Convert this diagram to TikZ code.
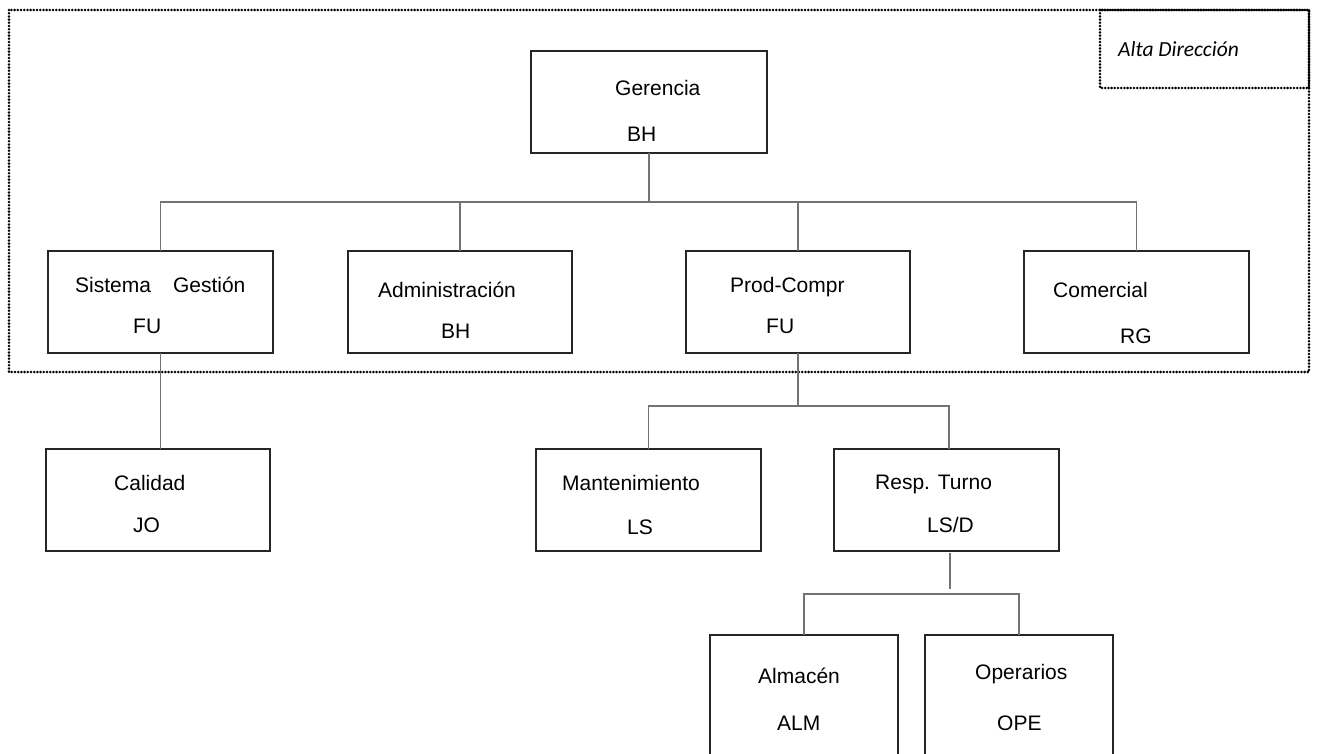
\documentclass[tikz,border=0pt]{standalone}
\usepackage{fontspec}
\setmainfont{Liberation Sans}
\newfontfamily\calfont{Carlito}
\begin{document}
\begin{tikzpicture}[x=1pt,y=-1pt,
  box/.style={draw=black!85, line width=1.3pt, inner sep=0pt, outer sep=0pt, minimum height=102pt, minimum width=225pt},
  conn/.style={draw=black!55, line width=1.4pt},
  dots/.style={draw=black, line width=2.8pt, dash pattern=on 0pt off 3.2pt, line cap=round},
  lbl/.style={anchor=base west, inner sep=0pt, font=\fontsize{21}{25}\selectfont}
]
\useasboundingbox (0,0) rectangle (1317,753);
\fill[white] (0,0) rectangle (1317,753);
\begin{scope}
\clip (0,0) rectangle (1317,753);
% boxes
\node[box, minimum width=236pt] (ger) at (649,102) {};
\node[box] (sg) at (160.5,302) {};
\node[box, minimum width=224pt] (adm) at (460,302) {};
\node[box, minimum width=224pt] (prod) at (798,302) {};
\node[box] (com) at (1136.5,302) {};
\node[box, minimum width=224pt] (cal) at (158,500) {};
\node[box] (man) at (648.5,500) {};
\node[box] (resp) at (946.5,500) {};
\node[box, minimum width=188pt, minimum height=160pt] (alm) at (804,715) {};
\node[box, minimum width=188pt, minimum height=160pt] (ope) at (1019,715) {};
\end{scope}
% dotted frames
\draw[dots] (9,10) rectangle (1309,372);
\draw[dots] (1100,10) rectangle (1309,88);
\node[anchor=base west, inner sep=0pt, font=\calfont\itshape\fontsize{21.5}{25}\selectfont] (alta) at (1118,56) {Alta Dirección};
% bar coordinates
\coordinate (bar1) at (649,202);
\coordinate (bar2) at (798,406);
\coordinate (rv1) at (950,553);
\coordinate (rv2) at (950,589);
\coordinate (bar3) at (900,594);
% connectors
\draw[conn] (ger.south) -- (bar1);
\draw[conn] (sg.north) -- (sg.north |- bar1) -- (com.north |- bar1) -- (com.north);
\draw[conn] (adm.north) -- (adm.north |- bar1);
\draw[conn] (prod.north) -- (prod.north |- bar1);
\draw[conn] (sg.south) -- (sg.south |- cal.north);
\draw[conn] (prod.south) -- (bar2);
\draw[conn] (man.north) -- (man.north |- bar2) -- (949,406 |- bar2) -- (949,449);
\draw[conn] (rv1) -- (rv2);
\draw[conn] (alm.north) -- (alm.north |- bar3) -- (ope.north |- bar3) -- (ope.north);
% labels
\node[lbl] (t1) at (615,95) {Gerencia};
\node[lbl] (t2) at (627,141) {BH};
\node[lbl] (t3) at (75,292) {Sistema\hspace{22pt}Gestión};
\node[lbl] (t4) at (133,333) {FU};
\node[lbl] (t5) at (378,297) {Administración};
\node[lbl] (t6) at (441,338) {BH};
\node[lbl] (t7) at (730,292) {Prod-Compr};
\node[lbl] (t8) at (766,333) {FU};
\node[lbl] (t9) at (1053,297) {Comercial};
\node[lbl] (t10) at (1120,343) {RG};
\node[lbl] (t11) at (114,490) {Calidad};
\node[lbl] (t12) at (133,532) {JO};
\node[lbl] (t13) at (562,490) {Mantenimiento};
\node[lbl] (t14) at (627,534) {LS};
\node[lbl] (t15) at (875,489) {Resp. Turno};
\node[lbl] (t16) at (927,532) {LS/D};
\node[lbl] (t17) at (758,683) {Almacén};
\node[lbl] (t18) at (777,730) {ALM};
\node[lbl] (t19) at (975,679) {Operarios};
\node[lbl] (t20) at (997,730) {OPE};
\end{tikzpicture}
\end{document}
